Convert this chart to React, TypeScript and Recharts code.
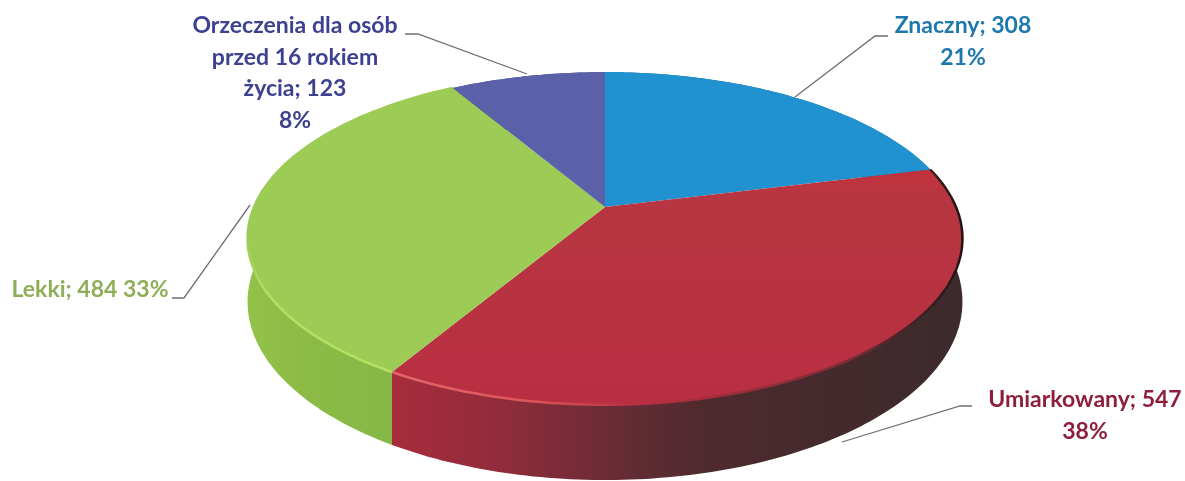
import React from "react";
import { PieChart, Pie, Cell } from "recharts";

const categories = ["Znaczny", "Umiarkowany", "Lekki", "Orzeczenia dla osób przed 16 rokiem życia"];
const counts = [308, 547, 484, 123];
const percents = ["21%", "38%", "33%", "8%"];

// wrapped the way the original labels are
const labelLines = [
  [`${categories[0]}; ${counts[0]}`, percents[0]],
  [`${categories[1]}; ${counts[1]}`, percents[1]],
  [`${categories[2]}; ${counts[2]} ${percents[2]}`],
  ["Orzeczenia dla osób", "przed 16 rokiem", `życia; ${counts[3]}`, percents[3]],
];
const labelColors = ["#1f78ad", "#8e1f3c", "#8fae58", "#3d4290"];
const labelX = [963, 1085, 90, 295];
const labelY = [33, 407, 297, 33];
const leaderLines = [
  "888,36 875,36 795,97",
  "972,406 960,406 842,442",
  "172,298 184,298 250,205",
  "405,34 418,34 527,74",
];

const topColors = ["#1f92cf", "url(#topRed)", "#9ccb56", "#5a61a9"];
const wallColors = ["#176a96", "url(#wallRed)", "url(#wallGreen)", "#444a85"];
const rimColors = ["none", "url(#rimRed)", "url(#rimGreen)", "none"];

const chartData = categories.map((name, i) => ({ name, value: counts[i] }));

// the pie lies on a tilted plane, so the circle goes through a small perspective map
const CX = 605;
const CY = 207;
const RADIUS = 351;
const SQUASH = 0.457;
const TILT = -0.189;
const DEPTH = 61;

const project = (cx: number, cy: number, r: number, deg: number) => {
  const u = Math.cos((deg * Math.PI) / 180);
  const v = -Math.sin((deg * Math.PI) / 180);
  const w = 1 + TILT * v;
  return [cx + (r * u) / w, cy + (r * SQUASH * v) / w, DEPTH / w];
};

const arcPoints = (props: any) => {
  const { cx, cy, outerRadius, startAngle, endAngle } = props;
  const steps = Math.max(2, Math.ceil(Math.abs(endAngle - startAngle)));
  const pts: number[][] = [];
  for (let i = 0; i <= steps; i++) {
    pts.push(project(cx, cy, outerRadius, startAngle + ((endAngle - startAngle) * i) / steps));
  }
  return pts;
};

const toPath = (pts: number[][]) => pts.map((p, i) => `${i ? "L" : "M"}${p[0].toFixed(1)} ${p[1].toFixed(1)}`).join(" ");

const WallShape = (props: any) => {
  const top = arcPoints(props);
  const bottom = [...top].reverse().map((p) => [p[0], p[1] + p[2]]);
  return <path d={`${toPath(top)} ${toPath(bottom).replace("M", "L")} Z`} fill={props.fill} stroke="none" />;
};

const TopShape = (props: any) => {
  const rim = arcPoints(props);
  return (
    <g>
      <path d={`M${props.cx} ${props.cy} ${toPath(rim).replace("M", "L")} Z`} fill={props.fill} stroke="none" />
      {props.stroke !== "none" && <path d={toPath(rim)} fill="none" stroke={props.stroke} strokeWidth={2.5} />}
    </g>
  );
};

const renderLabel = ({ index }: any) => (
  <g key={index}>
    <polyline points={leaderLines[index]} fill="none" stroke="#6f6f6f" strokeWidth={1.3} />
    <text
      textAnchor="middle"
      fill={labelColors[index]}
      fontFamily="Lato, sans-serif"
      fontWeight={700}
      fontSize={23}
    >
      {labelLines[index].map((line, i) => (
        <tspan key={line} x={labelX[index]} y={labelY[index] + i * 31.7}>
          {line}
        </tspan>
      ))}
    </text>
  </g>
);

export default function App() {
  return (
    <div style={{ position: "absolute", left: 0, top: 0, width: 1185, height: 481, filter: "blur(0.7px)" }}>
      <PieChart width={1185} height={481} margin={{ top: 0, right: 0, bottom: 0, left: 0 }}>
        <defs>
          <linearGradient id="wallRed" gradientUnits="userSpaceOnUse" x1={392} y1={0} x2={965} y2={0}>
            <stop offset="0" stopColor="#a82c3c" />
            <stop offset="0.2" stopColor="#8f2c3a" />
            <stop offset="0.38" stopColor="#6a2c36" />
            <stop offset="0.55" stopColor="#4d2a2e" />
            <stop offset="1" stopColor="#3c2a2c" />
          </linearGradient>
          <linearGradient id="wallGreen" gradientUnits="userSpaceOnUse" x1={247} y1={0} x2={395} y2={0}>
            <stop offset="0" stopColor="#93c24a" />
            <stop offset="0.4" stopColor="#8bbb45" />
            <stop offset="1" stopColor="#86b848" />
          </linearGradient>
          <linearGradient id="topRed" gradientUnits="userSpaceOnUse" x1={0} y1={170} x2={0} y2={400}>
            <stop offset="0" stopColor="#c2323c" />
            <stop offset="0.12" stopColor="#b73641" />
            <stop offset="1" stopColor="#b92f42" />
          </linearGradient>
          <linearGradient id="rimRed" gradientUnits="userSpaceOnUse" x1={392} y1={0} x2={965} y2={0}>
            <stop offset="0" stopColor="#e2666a" />
            <stop offset="0.25" stopColor="#dc5458" />
            <stop offset="0.42" stopColor="#b92f42" />
            <stop offset="0.8" stopColor="#7c2c34" />
            <stop offset="0.93" stopColor="#3a2022" />
            <stop offset="1" stopColor="#1c1414" />
          </linearGradient>
          <linearGradient id="rimGreen" gradientUnits="userSpaceOnUse" x1={0} y1={235} x2={0} y2={300}>
            <stop offset="0" stopColor="#9ccb56" />
            <stop offset="1" stopColor="#b6e060" />
          </linearGradient>
        </defs>
        <Pie
          data={chartData}
          dataKey="value"
          nameKey="name"
          cx={CX}
          cy={CY}
          outerRadius={RADIUS}
          startAngle={90}
          endAngle={-270}
          stroke="none"
          isAnimationActive={false}
          shape={WallShape}
        >
          {chartData.map((d, i) => (
            <Cell key={d.name} fill={wallColors[i]} />
          ))}
        </Pie>
        <Pie
          data={chartData}
          dataKey="value"
          nameKey="name"
          cx={CX}
          cy={CY}
          outerRadius={RADIUS}
          startAngle={90}
          endAngle={-270}
          isAnimationActive={false}
          shape={TopShape}
          label={renderLabel}
          labelLine={false}
        >
          {chartData.map((d, i) => (
            <Cell key={d.name} fill={topColors[i]} stroke={rimColors[i]} />
          ))}
        </Pie>
      </PieChart>
    </div>
  );
}
